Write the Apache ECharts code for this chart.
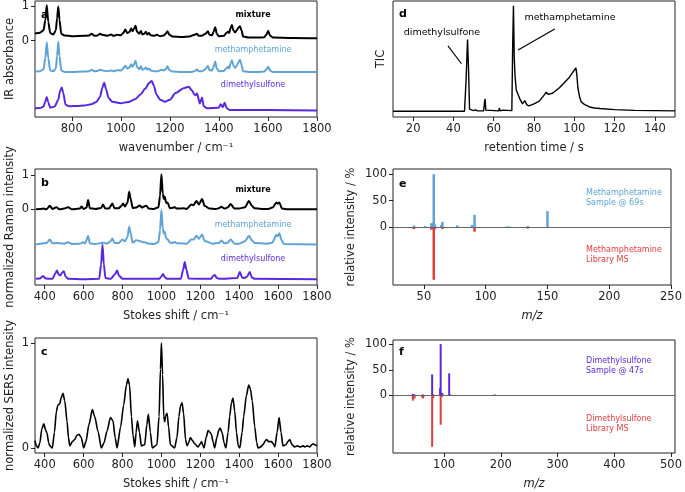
<!DOCTYPE html>
<html>
<head>
<meta charset="utf-8">
<script src="https://cdn.jsdelivr.net/npm/echarts@6/dist/echarts.min.js"></script>
<style>
  html, body { margin: 0; padding: 0; background: #fff; }
  #chart { width: 685px; height: 492px; }
</style>
</head>
<body>
<div id="chart"></div>
<script>
// ---- data ----
// IR spectra [wavenumber, absorbance incl. stacking offset]
const irMixture = [[650,0.21],[670,0.23],[685,0.3],[692,0.6],[698,1.02],[704,0.55],[712,0.22],[725,0.18],[735,0.3],[740,0.65],[745,0.99],[750,0.6],[757,0.2],[770,0.15],[800,0.13],[850,0.14],[870,0.15],[881,0.2],[893,0.14],[905,0.15],[915,0.2],[925,0.17],[945,0.14],[960,0.18],[970,0.14],[985,0.17],[1000,0.16],[1010,0.22],[1018,0.32],[1027,0.22],[1035,0.25],[1042,0.35],[1048,0.27],[1054,0.35],[1060,0.43],[1066,0.26],[1075,0.2],[1082,0.28],[1088,0.18],[1095,0.2],[1102,0.26],[1108,0.18],[1115,0.22],[1122,0.16],[1135,0.14],[1147,0.17],[1160,0.13],[1175,0.15],[1183,0.2],[1190,0.27],[1197,0.18],[1210,0.12],[1250,0.11],[1280,0.12],[1300,0.17],[1310,0.2],[1318,0.14],[1330,0.14],[1345,0.2],[1355,0.27],[1362,0.17],[1372,0.16],[1378,0.25],[1385,0.39],[1391,0.2],[1400,0.13],[1420,0.14],[1430,0.22],[1437,0.26],[1442,0.22],[1448,0.38],[1453,0.45],[1459,0.3],[1466,0.24],[1473,0.3],[1480,0.38],[1486,0.42],[1492,0.3],[1499,0.12],[1520,0.09],[1560,0.09],[1585,0.1],[1594,0.18],[1601,0.29],[1608,0.15],[1620,0.09],[1700,0.08],[1800,0.07]];
const irMeth = [[650,-0.89],[670,-0.88],[685,-0.82],[692,-0.5],[698,-0.05],[704,-0.5],[712,-0.86],[725,-0.88],[735,-0.8],[740,-0.45],[745,-0.03],[750,-0.45],[757,-0.86],[770,-0.9],[800,-0.9],[850,-0.89],[870,-0.88],[881,-0.84],[893,-0.88],[905,-0.87],[915,-0.84],[925,-0.86],[945,-0.88],[960,-0.86],[970,-0.88],[985,-0.85],[1000,-0.86],[1010,-0.8],[1018,-0.72],[1027,-0.8],[1035,-0.77],[1042,-0.68],[1048,-0.75],[1054,-0.68],[1060,-0.58],[1066,-0.76],[1075,-0.82],[1082,-0.74],[1088,-0.84],[1095,-0.82],[1102,-0.77],[1108,-0.84],[1115,-0.8],[1122,-0.86],[1135,-0.88],[1150,-0.88],[1165,-0.84],[1175,-0.86],[1183,-0.82],[1190,-0.74],[1197,-0.84],[1210,-0.89],[1250,-0.9],[1290,-0.9],[1302,-0.87],[1310,-0.83],[1318,-0.88],[1330,-0.88],[1345,-0.82],[1355,-0.73],[1362,-0.85],[1372,-0.86],[1378,-0.76],[1385,-0.6],[1391,-0.8],[1400,-0.88],[1420,-0.87],[1430,-0.8],[1437,-0.75],[1442,-0.8],[1448,-0.64],[1453,-0.56],[1459,-0.72],[1466,-0.78],[1473,-0.72],[1480,-0.62],[1486,-0.55],[1492,-0.7],[1499,-0.88],[1520,-0.9],[1560,-0.9],[1585,-0.89],[1594,-0.82],[1601,-0.75],[1608,-0.86],[1620,-0.9],[1700,-0.9],[1800,-0.9]];
const irDms = [[650,-1.95],[670,-1.94],[685,-1.9],[692,-1.75],[698,-1.62],[704,-1.78],[712,-1.93],[730,-1.9],[745,-1.7],[752,-1.45],[759,-1.35],[765,-1.5],[775,-1.85],[790,-1.89],[820,-1.88],[850,-1.87],[880,-1.83],[900,-1.77],[915,-1.62],[925,-1.35],[932,-1.21],[940,-1.4],[950,-1.65],[965,-1.76],[1000,-1.8],[1030,-1.77],[1060,-1.68],[1080,-1.55],[1100,-1.38],[1115,-1.22],[1126,-1.16],[1135,-1.3],[1145,-1.55],[1160,-1.7],[1180,-1.76],[1200,-1.7],[1223,-1.51],[1256,-1.37],[1277,-1.33],[1290,-1.43],[1300,-1.55],[1304,-1.57],[1311,-1.52],[1322,-1.81],[1331,-1.64],[1338,-1.89],[1351,-1.95],[1399,-1.93],[1408,-1.83],[1416,-1.92],[1423,-1.79],[1432,-1.95],[1445,-2.0],[1600,-2.0],[1800,-2.01]];

// Raman spectra [Stokes shift, normalized intensity incl. offset]
const ramanMixture = [[355,0],[380,0.01],[395,0.02],[410,0],[426,0.1],[440,0.01],[460,0.06],[475,0],[500,0.02],[520,0.06],[540,0],[580,0.02],[590,0.08],[600,0.01],[615,0.05],[623,0.27],[632,0.03],[660,0.01],[690,0.04],[700,0.14],[710,0.03],[730,0.02],[748,0.17],[758,0.03],[780,0.03],[795,0.1],[803,0.17],[812,0.08],[826,0.2],[834,0.51],[842,0.3],[852,0.04],[871,0.05],[888,0.11],[900,0.05],[914,0.09],[923,0.1],[935,0.02],[960,0.01],[985,0.06],[993,0.4],[1000,1.02],[1007,0.45],[1012,0.3],[1017,0.37],[1025,0.18],[1032,0.2],[1043,0.03],[1055,0.04],[1069,0.06],[1080,0.02],[1094,0.02],[1111,0.03],[1130,0.01],[1154,0.14],[1165,0.12],[1180,0.24],[1193,0.14],[1209,0.3],[1222,0.1],[1248,0.02],[1280,0.01],[1295,0.03],[1308,0.07],[1325,0.02],[1340,0.05],[1356,0.15],[1376,0.02],[1400,0.02],[1430,0.06],[1450,0.24],[1465,0.1],[1479,0.03],[1513,0.01],[1550,0.01],[1574,0.06],[1591,0.2],[1597,0.16],[1606,0.2],[1620,0.02],[1650,0],[1800,0]];
const ramanMeth = [[355,-1.02],[380,-1.0],[410,-0.98],[426,-0.88],[440,-0.99],[460,-0.98],[500,-1.0],[520,-0.96],[540,-1.01],[580,-1.0],[597,-0.96],[608,-0.99],[623,-0.78],[632,-0.99],[660,-1.01],[700,-0.97],[720,-1.0],[740,-0.92],[748,-0.85],[758,-0.98],[780,-0.98],[800,-0.88],[812,-0.93],[826,-0.8],[834,-0.51],[842,-0.7],[852,-0.97],[870,-0.9],[888,-0.92],[900,-0.95],[914,-0.96],[935,-1.0],[960,-1.01],[985,-0.95],[993,-0.6],[1000,-0.02],[1007,-0.55],[1012,-0.7],[1017,-0.65],[1025,-0.85],[1032,-0.87],[1043,-0.97],[1055,-0.98],[1069,-0.95],[1080,-0.99],[1094,-0.99],[1130,-1.0],[1154,-0.88],[1165,-0.88],[1180,-0.77],[1193,-0.86],[1209,-0.73],[1222,-0.92],[1265,-1.0],[1295,-0.98],[1308,-0.91],[1325,-0.99],[1340,-0.97],[1356,-0.88],[1376,-1.0],[1400,-1.0],[1430,-0.93],[1450,-0.77],[1465,-0.9],[1479,-0.98],[1540,-1.0],[1570,-0.97],[1591,-0.75],[1597,-0.78],[1606,-0.7],[1618,-0.9],[1630,-1.01],[1800,-1.02]];
const ramanDms = [[355,-2.02],[375,-2.01],[391,-1.94],[405,-2.01],[440,-2.02],[455,-1.86],[463,-1.78],[472,-1.9],[480,-1.92],[490,-1.84],[498,-1.8],[507,-1.95],[520,-2.02],[600,-2.03],[680,-2.02],[690,-1.6],[697,-1.02],[704,-1.6],[712,-2.0],[740,-2.02],[762,-1.88],[772,-1.78],[782,-1.93],[800,-2.02],[990,-2.02],[1000,-1.95],[1008,-1.88],[1018,-1.98],[1030,-2.02],[1100,-2.02],[1112,-1.75],[1120,-1.53],[1128,-1.75],[1140,-2.01],[1255,-2.02],[1266,-1.94],[1274,-1.91],[1285,-2.0],[1300,-2.02],[1390,-2.0],[1403,-1.82],[1415,-1.98],[1425,-2.0],[1440,-1.96],[1454,-1.82],[1465,-1.98],[1480,-2.02],[1800,-2.03]];

// SERS spectrum
const sersSpectrum = [[350,0.07],[357,0.02],[366,0],[375,0.05],[385,0.18],[395,0.23],[405,0.17],[412,0.14],[420,0.05],[426,0.02],[439,0],[450,0.15],[460,0.35],[468,0.41],[477,0.42],[485,0.48],[494,0.52],[503,0.45],[515,0.25],[522,0.1],[529,0.02],[542,0.06],[548,0.07],[554,0.08],[565,0.12],[576,0.13],[588,0.1],[600,0],[612,0.06],[627,0.22],[645,0.365],[657,0.3],[674,0.16],[691,0],[705,0.05],[720,0.16],[738,0.29],[751,0.26],[762,0.1],[772,0],[790,0.2],[806,0.41],[820,0.6],[828,0.66],[836,0.6],[846,0.3],[854,0.12],[863,0.01],[870,0.15],[877,0.26],[887,0.15],[897,0.02],[914,0.03],[925,0.22],[933,0.32],[943,0.15],[953,0],[977,0.03],[988,0.3],[995,0.75],[1000,1.0],[1006,0.7],[1012,0.3],[1017,0.25],[1022,0.31],[1029,0.33],[1037,0.2],[1046,0.03],[1068,0],[1080,0.1],[1090,0.3],[1098,0.4],[1106,0.43],[1114,0.33],[1124,0.08],[1132,0.02],[1140,0.05],[1149,0.1],[1160,0.07],[1171,0.04],[1188,0.01],[1200,0.04],[1206,0.06],[1212,0.03],[1219,0],[1230,0.1],[1240,0.165],[1250,0.15],[1257,0.13],[1265,0.06],[1274,0],[1285,0.1],[1295,0.17],[1302,0.19],[1313,0.14],[1322,0.05],[1331,0],[1343,0.15],[1351,0.3],[1360,0.43],[1368,0.475],[1377,0.35],[1386,0.15],[1395,0.02],[1403,0],[1415,0.15],[1423,0.3],[1437,0.5],[1449,0.6],[1458,0.56],[1467,0.45],[1480,0.2],[1490,0.05],[1497,0],[1510,0.01],[1522,0.03],[1535,0.07],[1540,0.08],[1552,0.06],[1566,0.06],[1575,0.04],[1583,0.01],[1595,0.15],[1605,0.29],[1615,0.15],[1625,0.02],[1640,0.03],[1650,0.06],[1660,0.08],[1672,0.03],[1685,0.01],[1700,0.02],[1711,0.01],[1730,0.02],[1737,0.01],[1750,0.02],[1763,0.01],[1773,0.03],[1780,0.04],[1790,0.03],[1800,0.02]];

// GC total ion chromatogram [retention time s, normalized TIC]
const ticTrace = [[10,0],[45.5,0],[46.3,0.3],[47,0.68],[47.5,0.4],[48,0.02],[50,0.005],[51,0.012],[52,0.003],[55,0.003],[55.4,0.08],[55.7,0.117],[56.1,0.01],[57,0.003],[62.5,0.003],[62.8,0.03],[63.2,0.003],[64.6,0.01],[65,0.003],[69,0.005],[69.4,0.6],[69.8,1.0],[70.2,0.5],[70.6,0.33],[71.2,0.2],[72.9,0.12],[74.3,0.07],[75.4,0.1],[76.5,0.06],[77.5,0.05],[80,0.07],[82.6,0.095],[85.3,0.16],[86,0.18],[87,0.16],[89.2,0.17],[92.5,0.22],[95,0.27],[97.5,0.32],[100,0.39],[100.8,0.41],[101.3,0.34],[101.8,0.22],[102.6,0.14],[103.4,0.09],[105,0.065],[107.5,0.04],[110,0.03],[112.8,0.025],[113.2,0.04],[113.6,0.025],[120,0.015],[130,0.008],[150,0.003]];
// arrows: [textAnchor x, y, arrowTip x, y] in data units
const ticArrows = [[37.3,0.62,44,0.45],[90.3,0.78,72.1,0.58]];

// mass spectra [m/z, relative intensity %]
const msMethSample = [[42,3],[51,2],[56,7],[57,8],[58,100],[59,5],[64,4],[65,10],[77,3],[89,4],[91,23],[117,1],[119,1],[134,2],[150,30]];
const msMethLibrary = [[39,-2],[41,-3],[42,-4],[44,-2],[56,-5],[57,-4],[58,-100],[59,-4],[65,-4],[91,-9],[115,-1],[117,-1],[119,-1],[134,-3]];
const msDmsSample = [[45,3],[46,2],[48,2],[63,2],[64,1],[79,41],[81,2],[93,14],[94,100],[96,5],[97,4],[109,43],[111,2],[189,2]];
const msDmsLibrary = [[45,-10],[46,-5],[47,-4],[48,-6],[61,-3],[62,-4],[63,-6],[64,-2],[79,-100],[81,-5],[94,-57],[96,-3]];

// tick values
const irTicks = [800, 1000, 1200, 1400, 1600, 1800];
const ramanTicks = [400, 600, 800, 1000, 1200, 1400, 1600, 1800];
const timeTicks = [20, 40, 60, 80, 100, 120, 140];
const mzTicksE = [50, 100, 150, 200, 250];
const mzTicksF = [100, 200, 300, 400, 500];
const stackTicks = [0, 1];
const intensityTicks = [0, 50, 100];

const BLACK = '#000000';
const BLUE = '#5fa3d6';
const PURPLE = '#5a28dc';
const RED = '#e33b3b';
const FONT = 'DejaVu Sans';
const FS = 11.5;

const chart = echarts.init(document.getElementById('chart'));

const grids = [
  { left: 35, top: 1, width: 282, height: 116 },
  { left: 35, top: 169, width: 282, height: 116 },
  { left: 35, top: 338, width: 282, height: 115 },
  { left: 393, top: 1, width: 282, height: 116 },
  { left: 393, top: 169, width: 282, height: 116 },
  { left: 393, top: 340, width: 282, height: 113 }
].map((g) => Object.assign({ show: true, borderColor: '#222', borderWidth: 1, backgroundColor: 'transparent' }, g));

const plain = (v) => String(v);

function xAxisFor(gridIndex, min, max, ticks, name, italic) {
  return {
    type: 'value', gridIndex, min, max,
    axisLine: { show: false, onZero: false },
    axisTick: { show: true, length: 4, customValues: ticks, lineStyle: { color: '#222' } },
    axisLabel: { customValues: ticks, formatter: plain, color: '#222', fontSize: FS, fontFamily: FONT, margin: 6 },
    splitLine: { show: false },
    name, nameLocation: 'middle', nameGap: 25,
    nameTextStyle: { color: '#222', fontSize: FS, fontFamily: FONT, fontStyle: italic ? 'italic' : 'normal', verticalAlign: 'top' }
  };
}

function yAxisFor(gridIndex, min, max, ticks, name, gap) {
  return {
    type: 'value', gridIndex, min, max,
    axisLine: { show: false, onZero: false },
    axisTick: { show: ticks.length > 0, length: 4, customValues: ticks, lineStyle: { color: '#222' } },
    axisLabel: { show: ticks.length > 0, customValues: ticks, formatter: plain, color: '#222', fontSize: FS, fontFamily: FONT, margin: 6 },
    splitLine: { show: false },
    name, nameLocation: 'middle', nameGap: gap,
    nameTextStyle: { color: '#222', fontSize: FS, fontFamily: FONT }
  };
}

function line(data, color, xi, width) {
  return {
    type: 'line', data, xAxisIndex: xi, yAxisIndex: xi,
    showSymbol: false, symbol: 'none', smooth: 0.25, smoothMonotone: 'x',
    lineStyle: { color, width }, silent: true, z: 3
  };
}

function bars(data, color, xi, width) {
  return {
    type: 'bar', data, xAxisIndex: xi, yAxisIndex: xi,
    barWidth: width, barGap: '-100%', itemStyle: { color }, silent: true
  };
}

function txt(text, x, y, opts) {
  return {
    type: 'text', silent: true, z: 100,
    style: Object.assign({
      text, x, y, fill: '#000', fontSize: 8, fontFamily: FONT,
      align: 'center', verticalAlign: 'middle', textAlign: 'center', textVerticalAlign: 'middle'
    }, opts || {})
  };
}

const arrowLines = ticArrows.map((a) => [
  { coord: [a[0], a[1]] },
  { coord: [a[2], a[3]] }
]);

const ticSeries = line(ticTrace, BLACK, 3, 1.4);
ticSeries.smooth = false;
ticSeries.markLine = {
  silent: true, symbol: ['none', 'arrow'], symbolSize: [0, 7], animation: false,
  label: { show: false },
  lineStyle: { color: '#000', width: 1.2, type: 'solid' },
  data: arrowLines
};

function zeroLine(series) {
  series.markLine = {
    silent: true, symbol: 'none', animation: false, label: { show: false },
    lineStyle: { color: '#666', width: 1, type: 'solid' },
    data: [{ yAxis: 0 }]
  };
  return series;
}

const bold = { fontSize: 11, fontWeight: 'bold', align: 'left', textAlign: 'left' };
const leftText = (color) => ({ fill: color, align: 'left', textAlign: 'left', lineHeight: 10.5 });

chart.setOption({
  animation: false,
  backgroundColor: '#fff',
  grid: grids,
  xAxis: [
    xAxisFor(0, 650, 1800, irTicks, 'wavenumber / cm\u207B\u00B9'),
    xAxisFor(1, 350, 1800, ramanTicks, 'Stokes shift / cm\u207B\u00B9'),
    xAxisFor(2, 350, 1800, ramanTicks, 'Stokes shift / cm\u207B\u00B9'),
    xAxisFor(3, 10, 150, timeTicks, 'retention time / s'),
    xAxisFor(4, 25, 250, mzTicksE, 'm/z', true),
    xAxisFor(5, 10, 507, mzTicksF, 'm/z', true)
  ],
  yAxis: [
    yAxisFor(0, -2.2, 1.145, stackTicks, 'IR absorbance', 19),
    yAxisFor(1, -2.2, 1.17, stackTicks, 'normalized Raman intensity', 19),
    yAxisFor(2, -0.048, 1.048, stackTicks, 'normalized SERS intensity', 19),
    yAxisFor(3, -0.055, 1.045, [], 'TIC', 6),
    yAxisFor(4, -110, 110, intensityTicks, 'relative intensity / %', 36),
    yAxisFor(5, -112, 108, intensityTicks, 'relative intensity / %', 36)
  ],
  series: [
    line(irMixture, BLACK, 0, 2),
    line(irMeth, BLUE, 0, 2),
    line(irDms, PURPLE, 0, 2),
    line(ramanMixture, BLACK, 1, 2),
    line(ramanMeth, BLUE, 1, 2),
    line(ramanDms, PURPLE, 1, 2),
    line(sersSpectrum, BLACK, 2, 1.6),
    ticSeries,
    zeroLine(bars(msMethSample, BLUE, 4, 2.5)),
    bars(msMethLibrary, RED, 4, 2.5),
    zeroLine(bars(msDmsSample, PURPLE, 5, 2)),
    bars(msDmsLibrary, RED, 5, 2)
  ],
  graphic: [
    txt('a', 41, 15, bold),
    txt('mixture', 253, 15, { fontWeight: 'bold' }),
    txt('methamphetamine', 253, 50, { fill: BLUE }),
    txt('dimethylsulfone', 253, 85, { fill: PURPLE }),
    txt('b', 41, 183, bold),
    txt('mixture', 253, 190, { fontWeight: 'bold' }),
    txt('methamphetamine', 253, 225, { fill: BLUE }),
    txt('dimethylsulfone', 253, 259, { fill: PURPLE }),
    txt('c', 41, 352, bold),
    txt('d', 399, 14, bold),
    txt('dimethylsulfone', 442, 33, { fontSize: 9.5 }),
    txt('methamphetamine', 570, 18, { fontSize: 9.5 }),
    txt('e', 399, 184, bold),
    txt('Methamphetamine\nSample @ 69s', 586, 198, leftText(BLUE)),
    txt('Methamphetamine\nLibrary MS', 586, 255, leftText(RED)),
    txt('f', 399, 352, bold),
    txt('Dimethylsulfone\nSample @ 47s', 586, 366, leftText(PURPLE)),
    txt('Dimethylsulfone\nLibrary MS', 586, 424, leftText(RED))
  ]
});

window.addEventListener('resize', () => chart.resize());
</script>
</body>
</html>
